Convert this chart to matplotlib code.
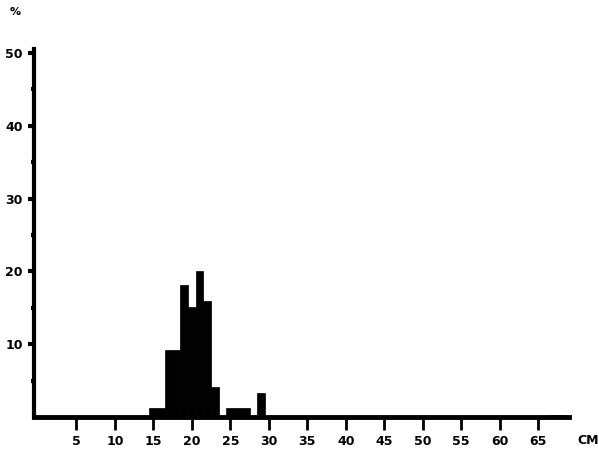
import matplotlib.pyplot as plt

# length class (cm) and share of catch (%)
lengths = [15, 16, 17, 18, 19, 20, 21, 22, 23, 25, 26, 27, 29, 67, 68]
percent = [1.2, 1.2, 9.2, 9.2, 18.1, 15.1, 20.1, 16.0, 4.1, 1.3, 1.3, 1.3, 3.3, 0.3, 0.3]

x_ticks = [5, 10, 15, 20, 25, 30, 35, 40, 45, 50, 55, 60, 65]
y_ticks = [10, 20, 30, 40, 50]

plt.rcParams['font.family'] = 'DejaVu Sans'
plt.rcParams['font.weight'] = 'bold'

fig = plt.figure(figsize=(5.99, 4.55), dpi=100)
ax = fig.add_axes([34 / 599, 38 / 455, (569 - 34) / 599, (417 - 53) / 455])

ax.bar(lengths, percent, width=1.0, color='black', edgecolor='black', linewidth=0.5)

ax.set_xlim(-0.5, 69)
ax.set_ylim(0, 50)

for side in ['top', 'right']:
    ax.spines[side].set_visible(False)
ax.spines['left'].set_linewidth(3)
ax.spines['bottom'].set_linewidth(3.5)
ax.spines['left'].set_bounds(0, 50.6)

ax.set_xticks(x_ticks)
ax.set_xticklabels([str(v) for v in x_ticks], fontsize=9, fontweight='bold')
ax.set_yticks(y_ticks)
ax.set_yticklabels([str(v) for v in y_ticks], fontsize=9, fontweight='bold')
ax.set_yticks([5, 15, 25, 35, 45], minor=True)

ax.tick_params(axis='x', direction='out', length=9, width=2, pad=4)
ax.tick_params(axis='y', which='major', direction='out', length=4, width=3, pad=4)
ax.tick_params(axis='y', which='minor', direction='out', length=2, width=3)

fig.text(15 / 599, 1 - 12 / 455, '%', fontsize=8, fontweight='bold', ha='center', va='center')
fig.text(588 / 599, 1 - 441 / 455, 'CM', fontsize=9, fontweight='bold', ha='center', va='center')

fig.savefig('out.png', dpi=100, facecolor='white')
